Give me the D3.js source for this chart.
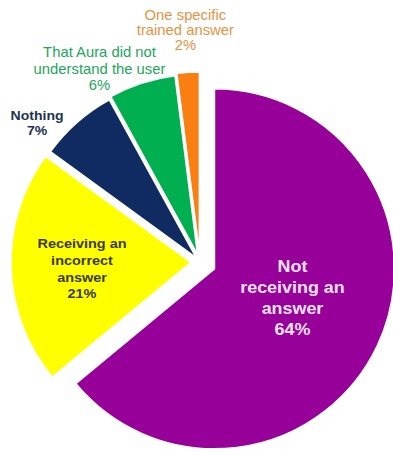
<!DOCTYPE html>
<html>
<head>
<meta charset="utf-8">
<script src="https://cdn.jsdelivr.net/npm/d3@7"></script>
<style>
  body { margin: 0; background: #fff; }
  svg { display: block; }
  text { font-family: "Liberation Sans", Arial, sans-serif; }
</style>
</head>
<body>
<svg id="chart" width="393" height="455"></svg>
<script>
// ** DATA *****************************************
const categories = [
    "Not receiving an answer",
    "Receiving an incorrect answer",
    "Nothing",
    "That Aura did not understand the user",
    "One specific trained answer"
];
const values = [64, 21, 7, 6, 2];
const labelLines = [
    ["Not", "receiving an", "answer", "64%"],
    ["Receiving an", "incorrect", "answer", "21%"],
    ["Nothing", "7%"],
    ["That Aura did not", "understand the user", "6%"],
    ["One specific", "trained answer", "2%"]
];

// ** STYLE *****************************************
const sliceColours = ["#98009a", "#ffff00", "#0f2b61", "#00b050", "#f97f12"];
const textColours = ["#f6e4f6", "#3a3a12", "#1c3350", "#23a55a", "#e9923f"];
const explode = [16, 9, 6, 8, 10];
// label: offset of first baseline from the slice centre, font size, weight, line height
const labelStyle = [
    {dx: 78, dy: 3, size: 16, weight: "bold", lh: 21, sx: 1.12},
    {dx: -109, dy: -14, size: 13.5, weight: "bold", lh: 16.7, sx: 1.07},
    {dx: -159, dy: -137, size: 13.5, weight: "bold", lh: 15, sx: 1.04},
    {dx: -98, dy: -197, size: 14, weight: "normal", lh: 16.5, sx: 1.06},
    {dx: -14, dy: -232, size: 14, weight: "normal", lh: 15, sx: 1.06}
];

const cx = 200, cy = 262, radius = 180;

let svg = d3.select("#chart");
let chart = svg.append("g").attr("class", "pieChart");

let pie = d3.pie()
    .sort(null)
    .value(d => d.value);

let arc = d3.arc()
    .innerRadius(0)
    .outerRadius(radius);

let data = categories.map((c, i) => ({name: c, value: values[i], i: i}));
let arcs = pie(data);

function sliceCentre(a) {
    let mid = (a.startAngle + a.endAngle) / 2;
    let e = explode[a.data.i];
    return [cx + e * Math.sin(mid), cy - e * Math.cos(mid)];
}

// ** SLICES *****************************************
chart.selectAll("path.slice")
    .data(arcs)
    .enter()
    .append("path")
    .attr("class", "slice")
    .attr("transform", d => "translate(" + sliceCentre(d).join(",") + ")")
    .attr("d", arc)
    .style("fill", d => sliceColours[d.data.i])
    .style("stroke", "#fff")
    .style("stroke-width", 1.5);

// ** LABELS *****************************************
arcs.forEach(a => {
    let i = a.data.i;
    let st = labelStyle[i];
    let c = sliceCentre(a);
    let g = chart.append("g")
        .attr("transform", "translate(" + (c[0] + st.dx) + "," + (c[1] + st.dy) + ") scale(" + st.sx + ",1)");
    labelLines[i].forEach((line, j) => {
        g.append("text")
            .attr("x", 0)
            .attr("y", j * st.lh)
            .attr("text-anchor", "middle")
            .attr("font-size", st.size)
            .attr("font-weight", st.weight)
            .attr("fill", textColours[i])
            .text(line);
    });
});
</script>
</body>
</html>
